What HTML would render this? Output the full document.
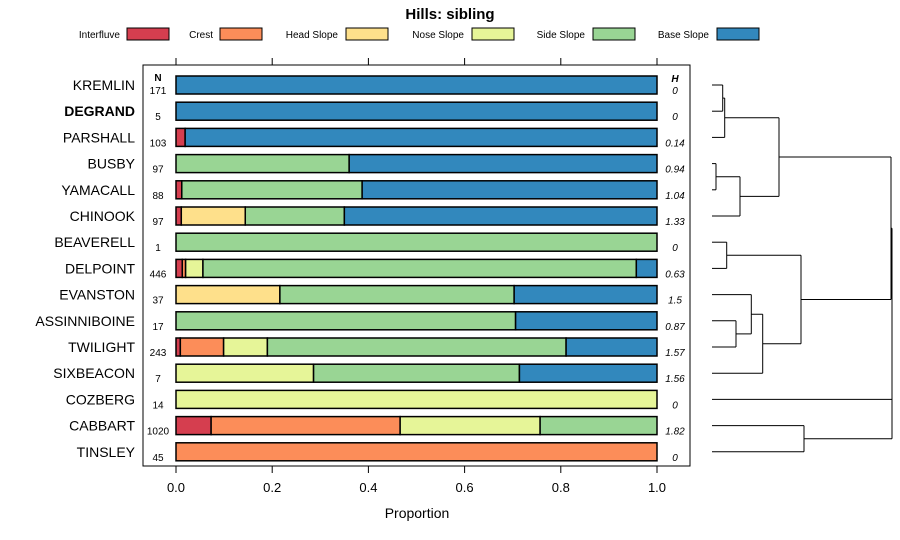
<!DOCTYPE html>
<html><head><meta charset="utf-8">
<style>
html,body{margin:0;padding:0;background:#fff;}
svg{display:block;font-family:"Liberation Sans",Arial,sans-serif;}
</style></head>
<body>
<svg id="chart" width="900" height="540" viewBox="0 0 900 540">
<text x="450" y="19" text-anchor="middle" font-size="15" font-weight="bold">Hills: sibling</text>
<g id="legend"></g>
<rect x="143" y="65" width="547" height="401" fill="none" stroke="#000" stroke-width="1"/>
<g id="bars"></g>
<g id="axis"></g>
<text x="417" y="518" text-anchor="middle" font-size="14">Proportion</text>
<text x="158" y="81" text-anchor="middle" font-size="10" font-weight="bold">N</text>
<text x="675" y="82" text-anchor="middle" font-size="10" font-weight="bold" font-style="italic">H</text>
<g id="dendro" stroke="#000" stroke-width="1" fill="none"></g>
</svg>
<script>
const categories = ["KREMLIN","DEGRAND","PARSHALL","BUSBY","YAMACALL","CHINOOK","BEAVERELL","DELPOINT","EVANSTON","ASSINNIBOINE","TWILIGHT","SIXBEACON","COZBERG","CABBART","TINSLEY"];
const seriesNames = ["Interfluve","Crest","Head Slope","Nose Slope","Side Slope","Base Slope"];
const interfluve = [0,0,0.019,0,0.012,0.011,0,0.013,0,0,0.009,0,0,0.073,0];
const crest      = [0,0,0,0,0,0,0,0.007,0,0,0.090,0,0,0.393,1];
const headSlope  = [0,0,0,0,0,0.133,0,0,0.216,0,0,0,0,0,0];
const noseSlope  = [0,0,0,0,0,0,0,0.036,0,0,0.091,0.286,1,0.291,0];
const sideSlope  = [0,0,0,0.36,0.375,0.206,1,0.901,0.487,0.706,0.621,0.428,0,0.243,0];
const baseSlope  = [1,1,0.981,0.64,0.613,0.65,0,0.043,0.297,0.294,0.189,0.286,0,0,0];
const nValues = ["171","5","103","97","88","97","1","446","37","17","243","7","14","1020","45"];
const hValues = ["0","0","0.14","0.94","1.04","1.33","0","0.63","1.5","0.87","1.57","1.56","0","1.82","0"];
const xTicks = [0,0.2,0.4,0.6,0.8,1.0];
const xTickLabels = ["0.0","0.2","0.4","0.6","0.8","1.0"];
const colors = ["#D53E4F","#FC8D59","#FEE08B","#E6F598","#99D594","#3288BD"];
const series = [interfluve,crest,headSlope,noseSlope,sideSlope,baseSlope];

const NS="http://www.w3.org/2000/svg";
const xs = v => 176 + v*481;
const ys = i => 85 + i*26.2;
function mk(tag, attrs, parent, txt){const e=document.createElementNS(NS,tag);for(const k in attrs)e.setAttribute(k,attrs[k]);if(txt!==undefined)e.textContent=txt;parent.appendChild(e);return e;}

// legend
const lg=document.getElementById('legend');
const legX=[[120,127],[213,220],[338,346],[464,472],[585,593],[709,717]];
seriesNames.forEach((s,j)=>{
  const t=mk('text',{x:legX[j][0],y:38,'text-anchor':'end','font-size':10},lg,s);
  
  
  const r=mk('rect',{x:legX[j][1],y:28,width:42,height:12,fill:colors[j],stroke:'#000'},lg);
  
  
});

// bars
const bg=document.getElementById('bars');
categories.forEach((c,i)=>{
  const y=ys(i);
  const lab=mk('text',{x:135,y:y+5,'text-anchor':'end','font-size':14,'font-weight':c==="DEGRAND"?'bold':'normal'},bg,c);
  
  
  const n=mk('text',{x:158,y:y+9,'text-anchor':'middle','font-size':10},bg,nValues[i]);
  
  
  const h=mk('text',{x:675,y:y+9,'text-anchor':'middle','font-size':10,'font-style':'italic'},bg,hValues[i]);
  
  
  let acc=0;
  series.forEach((arr,j)=>{
    const v=arr[i]; if(v<=0) return;
    const r=mk('rect',{x:xs(acc),y:y-9,width:xs(acc+v)-xs(acc),height:18,fill:colors[j],stroke:'#000','stroke-width':1.5},bg);
    
    
    acc+=v;
  });
});

// axis
const ax=document.getElementById('axis');
xTicks.forEach((t,k)=>{
  const x=xs(t);
  mk('line',{x1:x,x2:x,y1:58,y2:65,stroke:'#000'},ax);
  mk('line',{x1:x,x2:x,y1:466,y2:473,stroke:'#000'},ax);
  const tl=mk('text',{x:x,y:492,'text-anchor':'middle','font-size':13},ax,xTickLabels[k]);
  
  
});

// dendrogram
const dg=document.getElementById('dendro');
const L=712;
function seg(x1,y1,x2,y2){mk('line',{x1:x1,y1:y1,x2:x2,y2:y2},dg);}
function join(xm,ya,xa,yb,xb){seg(xa,ya,xm,ya);seg(xb,yb,xm,yb);seg(xm,ya,xm,yb);return (ya+yb)/2;}
const r=ys;
let a=join(722.7,r(0),L,r(1),L);
let g1a=join(724.7,a,722.7,r(2),L);
let b=join(716,r(3),L,r(4),L);
let g1b=join(740,b,716,r(5),L);
let g1=join(779,g1a,724.7,g1b,740);
let c=join(726.7,r(6),L,r(7),L);
let d=join(736,r(9),L,r(10),L);
let e=join(751.3,r(8),L,d,736);
let f=join(762.7,e,751.3,r(11),L);
let g2=join(801,c,726.7,f,762.7);
let top1=join(891,g1,779,g2,801);
let h=join(804,r(13),L,r(14),L);
seg(L,r(12),892,r(12));
seg(804,h,892,h);
seg(891,top1,892,top1);
seg(892,top1,892,h);
</script>
</body></html>
